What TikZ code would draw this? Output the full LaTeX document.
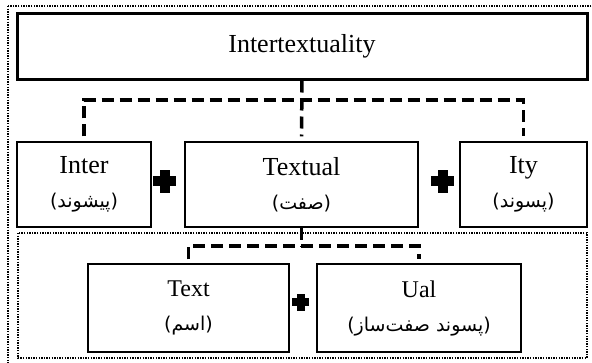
\documentclass[tikz,border=0pt]{standalone}
\usepackage{fontspec}
\setmainfont{Liberation Serif}
\newfontfamily\farsi[Script=Arabic]{DejaVu Sans}
\TeXXeTstate=1
\usetikzlibrary{calc,positioning}
\newcommand\fa[1]{{\farsi\fontsize{19}{34}\selectfont\beginR#1\endR}}
\newcommand\plusmark[3]{%
  \fill ($(#1)+(-#2,-#3)$) rectangle ($(#1)+(#2,#3)$);
  \fill ($(#1)+(-#3,-#2)$) rectangle ($(#1)+(#3,#2)$);}

\begin{document}
\begin{tikzpicture}[x=1pt,y=1pt,
  box/.style={draw,line width=1.3pt,inner sep=0pt,align=center,font=\fontsize{26}{34}\selectfont},
  mainbox/.style={box,line width=3pt},
  frame/.style={line width=1.4pt,dash pattern=on 1.4pt off 1.2pt},
  conn/.style={line width=3.5pt,dash pattern=on 12pt off 6pt}]
\useasboundingbox (0,0) rectangle (592,-362);
% frames
\draw[frame] (8,-6) rectangle (600,-370);
\draw[frame] (18,-233) rectangle (587,-358);
% boxes
\node[mainbox,minimum width=570,minimum height=66] (title) at (302,-46) {Intertextuality};
\node[box,minimum width=233,minimum height=85] (textual) at (301.5,-184.5) {Textual\\\fa{(صفت)}};
\node[box,minimum width=134,minimum height=85] (inter) at (84,-184.5) {Inter\\\fa{(پیشوند)}};
\node[box,minimum width=127,minimum height=85] (ity) at (523.5,-184.5) {Ity\\\fa{(پسوند)}};
\node[box,minimum width=201,minimum height=88,font=\fontsize{24}{34}\selectfont] (text) at (188.5,-308) {Text\\\fa{(اسم)}};
\node[box,minimum width=204,minimum height=88,font=\fontsize{24}{34}\selectfont] (ual) at (419,-308) {Ual\\\fa{(پسوند صفت‌ساز)}};
% connectors
\coordinate (topbar) at (0,-100);
\coordinate (lowbar) at (0,-246);
\draw[conn] (title.south) -- ([yshift=5pt]textual.north);
\draw[conn] ([yshift=5pt]inter.north) |- (topbar -| ity) -- ([yshift=5pt]ity.north);
\draw[conn] (textual.south) -- (textual.south |- lowbar);
\draw[conn] ([yshift=4pt]text.north) |- (lowbar -| ual) -- ([yshift=4pt]ual.north);
% plus signs
\coordinate (plusA) at (164.5,-181);
\coordinate (plusB) at (442.5,-181);
\coordinate (plusC) at (300.5,-302);
\plusmark{plusA}{11.5}{5}
\plusmark{plusB}{11.5}{5}
\plusmark{plusC}{8.5}{4}
\end{tikzpicture}
\end{document}
